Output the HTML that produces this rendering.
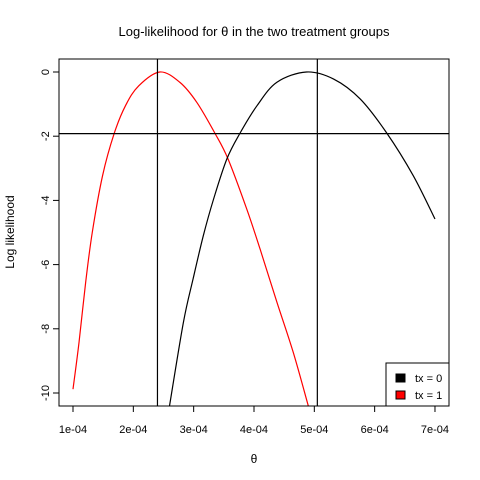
<!DOCTYPE html>
<html><head><meta charset="utf-8"><style>
body{margin:0;background:#fff}
svg{display:block;font-family:"Liberation Sans",Arial,sans-serif}
</style></head><body>
<svg id="chart" width="480" height="480">
<text x="254" y="36" font-size="13" text-anchor="middle">Log-likelihood for θ in the two treatment groups</text>
<text x="254" y="463" font-size="12" text-anchor="middle">θ</text>
<text transform="translate(14,232) rotate(-90)" font-size="12" text-anchor="middle">Log likelihood</text>
<g id="plot"></g>
</svg>
<script>
const xTicks=[1,2,3,4,5,6,7];
const xTickLabels=["1e-04","2e-04","3e-04","4e-04","5e-04","6e-04","7e-04"];
const yTicks=[0,-2,-4,-6,-8,-10];
const redTheta=[1.0,1.10,1.21,1.32,1.49,1.68,1.87,2.09,2.44,2.77,3.05,3.35,3.57,3.88,4.10,4.38,4.65,4.90];
const redLL=[-9.88,-8.42,-6.55,-4.99,-3.23,-1.93,-1.05,-0.43,0.0,-0.32,-0.94,-1.90,-2.71,-4.27,-5.51,-7.17,-8.73,-10.40];
const blackTheta=[2.60,2.83,2.99,3.16,3.33,3.55,3.77,4.05,4.38,4.87,5.32,5.76,6.20,6.64,7.0];
const blackLL=[-10.40,-7.80,-6.45,-5.10,-3.96,-2.71,-1.90,-1.05,-0.32,0.0,-0.22,-0.84,-1.90,-3.23,-4.58];
const mleLines=[2.40,5.05];
const cutoff=[-1.92];
const L=59,R=449,T=59,B=406;
const X=v=>73+(v-1)*60.33;
const Y=v=>72-v*32.1;
const NS="http://www.w3.org/2000/svg";
const g=document.getElementById('plot');
function mk(t,a){const e=document.createElementNS(NS,t);for(const k in a)e.setAttribute(k,a[k]);g.appendChild(e);return e;}
const clip=document.createElementNS(NS,'clipPath');clip.setAttribute('id','c');
const cr=document.createElementNS(NS,'rect');cr.setAttribute('x',L);cr.setAttribute('y',T);cr.setAttribute('width',R-L);cr.setAttribute('height',B-T);clip.appendChild(cr);g.appendChild(clip);
function smooth(pts){
 let d='M'+pts[0][0]+','+pts[0][1];
 for(let i=0;i<pts.length-1;i++){
  const p0=pts[Math.max(0,i-1)],p1=pts[i],p2=pts[i+1],p3=pts[Math.min(pts.length-1,i+2)];
  const c1=[p1[0]+(p2[0]-p0[0])/6,p1[1]+(p2[1]-p0[1])/6];
  const c2=[p2[0]-(p3[0]-p1[0])/6,p2[1]-(p3[1]-p1[1])/6];
  d+=' C'+c1[0]+','+c1[1]+' '+c2[0]+','+c2[1]+' '+p2[0]+','+p2[1];
 }
 return d;
}
function series(xs,ys,col,name){
 const p=mk('path',{d:smooth(xs.map((x,i)=>[X(x),Y(ys[i])])),fill:'none',stroke:col,'stroke-width':1.2,'clip-path':'url(#c)'});
 
 
}
series(redTheta,redLL,'#f00','curve-tx-1');
series(blackTheta,blackLL,'#000','curve-tx-0');
mleLines.forEach(v=>{const l=mk('line',{x1:X(v),x2:X(v),y1:T,y2:B,stroke:'#000','stroke-width':1.2});
 
 });
cutoff.forEach(v=>{const l=mk('line',{x1:L,x2:R,y1:Y(v),y2:Y(v),stroke:'#000','stroke-width':1.2});
 
 });
const box=mk('rect',{x:L,y:T,width:R-L,height:B-T,fill:'none',stroke:'#000'});


xTicks.forEach((v,i)=>{mk('line',{x1:X(v),x2:X(v),y1:B,y2:B+6,stroke:'#000'});
 const t=mk('text',{x:X(v),y:433,'font-size':11,'text-anchor':'middle'});t.textContent=xTickLabels[i];
 
 });
yTicks.forEach(v=>{mk('line',{x1:L,x2:L-6,y1:Y(v),y2:Y(v),stroke:'#000'});
 const t=mk('text',{transform:`translate(49,${Y(v)}) rotate(-90)`,'font-size':11,'text-anchor':'middle'});t.textContent=String(v);
 
 });
const lg=mk('rect',{x:386,y:363,width:63,height:43,fill:'#fff',stroke:'#000'});


[['#000','tx = 0',378],['#f00','tx = 1',395]].forEach(([c,s,y])=>{
 mk('rect',{x:396,y:y-4,width:9,height:8,fill:c,stroke:'#000'});
 const t=mk('text',{x:415,y:y+4,'font-size':11});t.textContent=s;
 
 });
</script>
</body></html>
